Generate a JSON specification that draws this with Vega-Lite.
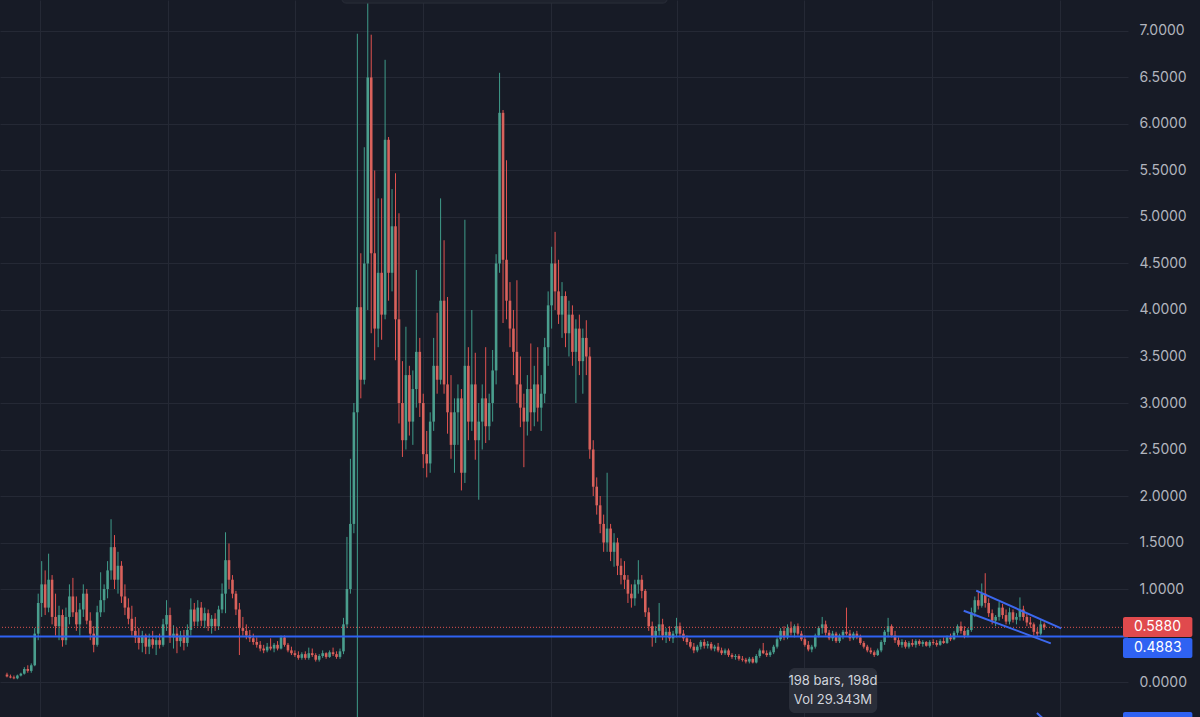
{
  "$schema": "https://vega.github.io/schema/vega-lite/v6.json",
  "width": 1128,
  "height": 717,
  "autosize": {"type": "none"},
  "padding": {"left": 0, "top": 0, "right": 72, "bottom": 0},
  "background": "#171B26",
  "config": {
    "view": {"stroke": null},
    "font": "Inter"
  },
  "datasets": {
    "candles": [
      {"i":0,"o":0.08,"h":0.10,"l":0.05,"c":0.06},
      {"i":1,"o":0.06,"h":0.08,"l":0.04,"c":0.05},
      {"i":2,"o":0.05,"h":0.07,"l":0.03,"c":0.04},
      {"i":3,"o":0.04,"h":0.08,"l":0.03,"c":0.07},
      {"i":4,"o":0.07,"h":0.10,"l":0.06,"c":0.09},
      {"i":5,"o":0.09,"h":0.16,"l":0.08,"c":0.14},
      {"i":6,"o":0.14,"h":0.18,"l":0.10,"c":0.12},
      {"i":7,"o":0.12,"h":0.20,"l":0.10,"c":0.18},
      {"i":8,"o":0.18,"h":0.58,"l":0.17,"c":0.52},
      {"i":9,"o":0.52,"h":0.95,"l":0.45,"c":0.85},
      {"i":10,"o":0.85,"h":1.30,"l":0.70,"c":1.05},
      {"i":11,"o":1.05,"h":1.20,"l":0.72,"c":0.80},
      {"i":12,"o":0.80,"h":1.38,"l":0.75,"c":1.10},
      {"i":13,"o":1.10,"h":1.15,"l":0.62,"c":0.70},
      {"i":14,"o":0.70,"h":0.95,"l":0.50,"c":0.60},
      {"i":15,"o":0.60,"h":0.82,"l":0.45,"c":0.72},
      {"i":16,"o":0.72,"h":0.78,"l":0.38,"c":0.45},
      {"i":17,"o":0.45,"h":0.80,"l":0.40,"c":0.70},
      {"i":18,"o":0.70,"h":1.05,"l":0.62,"c":0.92},
      {"i":19,"o":0.92,"h":1.12,"l":0.70,"c":0.75},
      {"i":20,"o":0.75,"h":0.92,"l":0.55,"c":0.62},
      {"i":21,"o":0.62,"h":0.85,"l":0.50,"c":0.78},
      {"i":22,"o":0.78,"h":1.05,"l":0.70,"c":0.95},
      {"i":23,"o":0.95,"h":1.00,"l":0.62,"c":0.66},
      {"i":24,"o":0.66,"h":0.75,"l":0.45,"c":0.52},
      {"i":25,"o":0.52,"h":0.60,"l":0.32,"c":0.40},
      {"i":26,"o":0.40,"h":0.82,"l":0.38,"c":0.75},
      {"i":27,"o":0.75,"h":1.18,"l":0.70,"c":0.88},
      {"i":28,"o":0.88,"h":1.05,"l":0.75,"c":1.00},
      {"i":29,"o":1.00,"h":1.30,"l":0.90,"c":1.20},
      {"i":30,"o":1.20,"h":1.75,"l":1.10,"c":1.45},
      {"i":31,"o":1.45,"h":1.58,"l":1.00,"c":1.10},
      {"i":32,"o":1.10,"h":1.40,"l":0.95,"c":1.25},
      {"i":33,"o":1.25,"h":1.30,"l":0.85,"c":0.92},
      {"i":34,"o":0.92,"h":1.05,"l":0.72,"c":0.80},
      {"i":35,"o":0.80,"h":0.90,"l":0.62,"c":0.68},
      {"i":36,"o":0.68,"h":0.82,"l":0.50,"c":0.55},
      {"i":37,"o":0.55,"h":0.70,"l":0.42,"c":0.48},
      {"i":38,"o":0.48,"h":0.58,"l":0.35,"c":0.42},
      {"i":39,"o":0.42,"h":0.55,"l":0.32,"c":0.50},
      {"i":40,"o":0.50,"h":0.52,"l":0.30,"c":0.38},
      {"i":41,"o":0.38,"h":0.52,"l":0.30,"c":0.46},
      {"i":42,"o":0.46,"h":0.55,"l":0.36,"c":0.40},
      {"i":43,"o":0.40,"h":0.50,"l":0.29,"c":0.45},
      {"i":44,"o":0.45,"h":0.52,"l":0.36,"c":0.40},
      {"i":45,"o":0.40,"h":0.68,"l":0.38,"c":0.62},
      {"i":46,"o":0.62,"h":0.88,"l":0.55,"c":0.72},
      {"i":47,"o":0.72,"h":0.80,"l":0.42,"c":0.48},
      {"i":48,"o":0.48,"h":0.61,"l":0.36,"c":0.52},
      {"i":49,"o":0.52,"h":0.58,"l":0.31,"c":0.44},
      {"i":50,"o":0.44,"h":0.55,"l":0.38,"c":0.50},
      {"i":51,"o":0.50,"h":0.56,"l":0.34,"c":0.42},
      {"i":52,"o":0.42,"h":0.62,"l":0.38,"c":0.56},
      {"i":53,"o":0.56,"h":0.90,"l":0.50,"c":0.78},
      {"i":54,"o":0.78,"h":0.85,"l":0.60,"c":0.65},
      {"i":55,"o":0.65,"h":0.88,"l":0.60,"c":0.80},
      {"i":56,"o":0.80,"h":0.86,"l":0.60,"c":0.66},
      {"i":57,"o":0.66,"h":0.80,"l":0.58,"c":0.74},
      {"i":58,"o":0.74,"h":0.78,"l":0.55,"c":0.60},
      {"i":59,"o":0.60,"h":0.72,"l":0.52,"c":0.68},
      {"i":60,"o":0.68,"h":0.74,"l":0.55,"c":0.60},
      {"i":61,"o":0.60,"h":0.82,"l":0.56,"c":0.78},
      {"i":62,"o":0.78,"h":1.06,"l":0.74,"c":0.95},
      {"i":63,"o":0.95,"h":1.61,"l":0.74,"c":1.31},
      {"i":64,"o":1.31,"h":1.49,"l":1.00,"c":1.10},
      {"i":65,"o":1.10,"h":1.15,"l":0.90,"c":0.95},
      {"i":66,"o":0.95,"h":0.98,"l":0.72,"c":0.78},
      {"i":67,"o":0.78,"h":0.85,"l":0.29,"c":0.58},
      {"i":68,"o":0.58,"h":0.70,"l":0.50,"c":0.55},
      {"i":69,"o":0.55,"h":0.62,"l":0.46,"c":0.50},
      {"i":70,"o":0.50,"h":0.56,"l":0.43,"c":0.47},
      {"i":71,"o":0.47,"h":0.52,"l":0.40,"c":0.43},
      {"i":72,"o":0.43,"h":0.48,"l":0.37,"c":0.40},
      {"i":73,"o":0.40,"h":0.44,"l":0.33,"c":0.36},
      {"i":74,"o":0.36,"h":0.40,"l":0.31,"c":0.34},
      {"i":75,"o":0.34,"h":0.42,"l":0.32,"c":0.38},
      {"i":76,"o":0.38,"h":0.47,"l":0.34,"c":0.36},
      {"i":77,"o":0.36,"h":0.42,"l":0.32,"c":0.40},
      {"i":78,"o":0.40,"h":0.44,"l":0.34,"c":0.36},
      {"i":79,"o":0.36,"h":0.50,"l":0.35,"c":0.48},
      {"i":80,"o":0.48,"h":0.50,"l":0.38,"c":0.40},
      {"i":81,"o":0.40,"h":0.42,"l":0.32,"c":0.34},
      {"i":82,"o":0.34,"h":0.38,"l":0.29,"c":0.31},
      {"i":83,"o":0.31,"h":0.34,"l":0.27,"c":0.29},
      {"i":84,"o":0.29,"h":0.33,"l":0.24,"c":0.26},
      {"i":85,"o":0.26,"h":0.32,"l":0.24,"c":0.30},
      {"i":86,"o":0.30,"h":0.33,"l":0.24,"c":0.26},
      {"i":87,"o":0.26,"h":0.37,"l":0.24,"c":0.31},
      {"i":88,"o":0.31,"h":0.36,"l":0.27,"c":0.29},
      {"i":89,"o":0.29,"h":0.31,"l":0.22,"c":0.24},
      {"i":90,"o":0.24,"h":0.30,"l":0.22,"c":0.28},
      {"i":91,"o":0.28,"h":0.34,"l":0.26,"c":0.31},
      {"i":92,"o":0.31,"h":0.32,"l":0.25,"c":0.27},
      {"i":93,"o":0.27,"h":0.34,"l":0.26,"c":0.32},
      {"i":94,"o":0.32,"h":0.37,"l":0.28,"c":0.30},
      {"i":95,"o":0.30,"h":0.33,"l":0.25,"c":0.27},
      {"i":96,"o":0.27,"h":0.36,"l":0.25,"c":0.33},
      {"i":97,"o":0.33,"h":0.69,"l":0.30,"c":0.62},
      {"i":98,"o":0.62,"h":1.56,"l":0.58,"c":1.00},
      {"i":99,"o":1.00,"h":2.40,"l":0.95,"c":1.70},
      {"i":100,"o":1.70,"h":3.00,"l":1.60,"c":2.90},
      {"i":101,"o":2.90,"h":6.97,"l":-0.40,"c":4.03},
      {"i":102,"o":4.03,"h":4.61,"l":3.05,"c":3.25},
      {"i":103,"o":3.25,"h":5.75,"l":3.20,"c":4.50},
      {"i":104,"o":4.50,"h":7.30,"l":4.00,"c":6.50},
      {"i":105,"o":6.50,"h":6.96,"l":3.75,"c":4.61},
      {"i":106,"o":4.61,"h":5.50,"l":3.46,"c":3.80},
      {"i":107,"o":3.80,"h":5.20,"l":3.60,"c":4.40},
      {"i":108,"o":4.40,"h":5.20,"l":3.68,"c":3.95},
      {"i":109,"o":3.95,"h":6.69,"l":3.90,"c":5.83},
      {"i":110,"o":5.83,"h":5.86,"l":4.10,"c":4.40},
      {"i":111,"o":4.40,"h":5.30,"l":4.20,"c":4.90},
      {"i":112,"o":4.90,"h":5.47,"l":3.46,"c":3.90},
      {"i":113,"o":3.90,"h":5.04,"l":2.78,"c":3.00},
      {"i":114,"o":3.00,"h":3.45,"l":2.42,"c":2.60},
      {"i":115,"o":2.60,"h":3.82,"l":2.50,"c":3.30},
      {"i":116,"o":3.30,"h":3.40,"l":2.65,"c":2.80},
      {"i":117,"o":2.80,"h":3.35,"l":2.55,"c":3.15},
      {"i":118,"o":3.15,"h":4.43,"l":2.95,"c":3.55},
      {"i":119,"o":3.55,"h":3.70,"l":2.85,"c":3.00},
      {"i":120,"o":3.00,"h":3.10,"l":2.30,"c":2.45},
      {"i":121,"o":2.45,"h":2.70,"l":2.20,"c":2.35},
      {"i":122,"o":2.35,"h":2.90,"l":2.25,"c":2.80},
      {"i":123,"o":2.80,"h":3.70,"l":2.70,"c":3.40},
      {"i":124,"o":3.40,"h":3.97,"l":3.10,"c":3.25},
      {"i":125,"o":3.25,"h":5.20,"l":3.20,"c":4.10},
      {"i":126,"o":4.10,"h":4.75,"l":3.10,"c":3.20},
      {"i":127,"o":3.20,"h":4.14,"l":2.67,"c":2.90},
      {"i":128,"o":2.90,"h":3.30,"l":2.40,"c":2.55},
      {"i":129,"o":2.55,"h":3.05,"l":2.25,"c":2.90},
      {"i":130,"o":2.90,"h":3.20,"l":2.55,"c":3.05},
      {"i":131,"o":3.05,"h":3.15,"l":2.06,"c":2.25},
      {"i":132,"o":2.25,"h":4.97,"l":2.14,"c":3.40},
      {"i":133,"o":3.40,"h":3.60,"l":2.60,"c":2.80},
      {"i":134,"o":2.80,"h":4.00,"l":2.70,"c":3.20},
      {"i":135,"o":3.20,"h":3.54,"l":2.39,"c":2.60},
      {"i":136,"o":2.60,"h":3.00,"l":1.96,"c":2.80},
      {"i":137,"o":2.80,"h":3.20,"l":2.50,"c":3.05},
      {"i":138,"o":3.05,"h":3.60,"l":2.57,"c":2.75},
      {"i":139,"o":2.75,"h":3.10,"l":2.60,"c":3.00},
      {"i":140,"o":3.00,"h":3.57,"l":2.80,"c":3.35},
      {"i":141,"o":3.35,"h":4.60,"l":3.20,"c":4.50},
      {"i":142,"o":4.50,"h":6.55,"l":4.40,"c":6.12},
      {"i":143,"o":6.12,"h":6.15,"l":3.86,"c":4.54},
      {"i":144,"o":4.54,"h":5.61,"l":3.90,"c":4.10},
      {"i":145,"o":4.10,"h":4.30,"l":3.60,"c":3.80},
      {"i":146,"o":3.80,"h":4.00,"l":3.30,"c":3.55},
      {"i":147,"o":3.55,"h":4.32,"l":3.00,"c":3.20},
      {"i":148,"o":3.20,"h":3.50,"l":2.74,"c":2.95},
      {"i":149,"o":2.95,"h":3.10,"l":2.31,"c":2.80},
      {"i":150,"o":2.80,"h":3.30,"l":2.65,"c":3.15},
      {"i":151,"o":3.15,"h":3.64,"l":2.70,"c":2.90},
      {"i":152,"o":2.90,"h":3.40,"l":2.75,"c":3.20},
      {"i":153,"o":3.20,"h":3.60,"l":2.80,"c":2.95},
      {"i":154,"o":2.95,"h":3.30,"l":2.70,"c":3.10},
      {"i":155,"o":3.10,"h":3.70,"l":3.00,"c":3.60},
      {"i":156,"o":3.60,"h":4.20,"l":3.40,"c":4.05},
      {"i":157,"o":4.05,"h":4.68,"l":3.80,"c":4.50},
      {"i":158,"o":4.50,"h":4.84,"l":4.00,"c":4.20},
      {"i":159,"o":4.20,"h":4.54,"l":3.85,"c":3.95},
      {"i":160,"o":3.95,"h":4.30,"l":3.70,"c":4.15},
      {"i":161,"o":4.15,"h":4.20,"l":3.60,"c":3.75},
      {"i":162,"o":3.75,"h":4.10,"l":3.50,"c":3.95},
      {"i":163,"o":3.95,"h":4.05,"l":3.40,"c":3.55},
      {"i":164,"o":3.55,"h":3.90,"l":3.00,"c":3.80},
      {"i":165,"o":3.80,"h":3.95,"l":3.30,"c":3.45},
      {"i":166,"o":3.45,"h":3.80,"l":3.10,"c":3.70},
      {"i":167,"o":3.70,"h":3.89,"l":3.30,"c":3.50},
      {"i":168,"o":3.50,"h":3.60,"l":2.40,"c":2.50},
      {"i":169,"o":2.50,"h":2.60,"l":2.00,"c":2.10},
      {"i":170,"o":2.10,"h":2.20,"l":1.80,"c":1.90},
      {"i":171,"o":1.90,"h":2.00,"l":1.60,"c":1.70},
      {"i":172,"o":1.70,"h":1.80,"l":1.40,"c":1.50},
      {"i":173,"o":1.50,"h":2.25,"l":1.40,"c":1.65},
      {"i":174,"o":1.65,"h":1.70,"l":1.30,"c":1.40},
      {"i":175,"o":1.40,"h":1.60,"l":1.24,"c":1.50},
      {"i":176,"o":1.50,"h":1.55,"l":1.15,"c":1.25},
      {"i":177,"o":1.25,"h":1.33,"l":1.05,"c":1.15},
      {"i":178,"o":1.15,"h":1.30,"l":1.00,"c":1.10},
      {"i":179,"o":1.10,"h":1.15,"l":0.85,"c":0.95},
      {"i":180,"o":0.95,"h":1.05,"l":0.80,"c":0.90},
      {"i":181,"o":0.90,"h":1.10,"l":0.82,"c":1.05},
      {"i":182,"o":1.05,"h":1.31,"l":0.95,"c":1.10},
      {"i":183,"o":1.10,"h":1.15,"l":0.90,"c":0.98},
      {"i":184,"o":0.98,"h":1.00,"l":0.70,"c":0.75},
      {"i":185,"o":0.75,"h":0.80,"l":0.55,"c":0.60},
      {"i":186,"o":0.60,"h":0.65,"l":0.38,"c":0.48},
      {"i":187,"o":0.48,"h":0.60,"l":0.42,"c":0.55},
      {"i":188,"o":0.55,"h":0.85,"l":0.50,"c":0.62},
      {"i":189,"o":0.62,"h":0.68,"l":0.45,"c":0.50},
      {"i":190,"o":0.50,"h":0.58,"l":0.42,"c":0.54},
      {"i":191,"o":0.54,"h":0.60,"l":0.44,"c":0.47},
      {"i":192,"o":0.47,"h":0.55,"l":0.42,"c":0.52},
      {"i":193,"o":0.52,"h":0.69,"l":0.48,"c":0.60},
      {"i":194,"o":0.60,"h":0.64,"l":0.48,"c":0.52},
      {"i":195,"o":0.52,"h":0.56,"l":0.44,"c":0.47},
      {"i":196,"o":0.47,"h":0.50,"l":0.40,"c":0.43},
      {"i":197,"o":0.43,"h":0.46,"l":0.36,"c":0.38},
      {"i":198,"o":0.38,"h":0.42,"l":0.31,"c":0.34},
      {"i":199,"o":0.34,"h":0.40,"l":0.32,"c":0.38},
      {"i":200,"o":0.38,"h":0.45,"l":0.35,"c":0.43},
      {"i":201,"o":0.43,"h":0.46,"l":0.36,"c":0.39},
      {"i":202,"o":0.39,"h":0.44,"l":0.36,"c":0.41},
      {"i":203,"o":0.41,"h":0.43,"l":0.34,"c":0.36},
      {"i":204,"o":0.36,"h":0.40,"l":0.33,"c":0.38},
      {"i":205,"o":0.38,"h":0.42,"l":0.32,"c":0.34},
      {"i":206,"o":0.34,"h":0.37,"l":0.29,"c":0.31},
      {"i":207,"o":0.31,"h":0.36,"l":0.29,"c":0.34},
      {"i":208,"o":0.34,"h":0.36,"l":0.27,"c":0.29},
      {"i":209,"o":0.29,"h":0.31,"l":0.25,"c":0.27},
      {"i":210,"o":0.27,"h":0.30,"l":0.24,"c":0.28},
      {"i":211,"o":0.28,"h":0.30,"l":0.23,"c":0.25},
      {"i":212,"o":0.25,"h":0.28,"l":0.22,"c":0.24},
      {"i":213,"o":0.24,"h":0.26,"l":0.20,"c":0.22},
      {"i":214,"o":0.22,"h":0.27,"l":0.20,"c":0.25},
      {"i":215,"o":0.25,"h":0.27,"l":0.20,"c":0.21},
      {"i":216,"o":0.21,"h":0.30,"l":0.20,"c":0.28},
      {"i":217,"o":0.28,"h":0.36,"l":0.26,"c":0.34},
      {"i":218,"o":0.34,"h":0.42,"l":0.30,"c":0.31},
      {"i":219,"o":0.31,"h":0.34,"l":0.27,"c":0.29},
      {"i":220,"o":0.29,"h":0.34,"l":0.27,"c":0.32},
      {"i":221,"o":0.32,"h":0.40,"l":0.30,"c":0.38},
      {"i":222,"o":0.38,"h":0.48,"l":0.36,"c":0.46},
      {"i":223,"o":0.46,"h":0.58,"l":0.44,"c":0.55},
      {"i":224,"o":0.55,"h":0.60,"l":0.45,"c":0.48},
      {"i":225,"o":0.48,"h":0.62,"l":0.46,"c":0.58},
      {"i":226,"o":0.58,"h":0.65,"l":0.50,"c":0.53},
      {"i":227,"o":0.53,"h":0.62,"l":0.48,"c":0.60},
      {"i":228,"o":0.60,"h":0.63,"l":0.50,"c":0.52},
      {"i":229,"o":0.52,"h":0.55,"l":0.44,"c":0.46},
      {"i":230,"o":0.46,"h":0.50,"l":0.38,"c":0.40},
      {"i":231,"o":0.40,"h":0.44,"l":0.33,"c":0.35},
      {"i":232,"o":0.35,"h":0.40,"l":0.32,"c":0.38},
      {"i":233,"o":0.38,"h":0.52,"l":0.36,"c":0.50},
      {"i":234,"o":0.50,"h":0.60,"l":0.48,"c":0.58},
      {"i":235,"o":0.58,"h":0.70,"l":0.52,"c":0.62},
      {"i":236,"o":0.62,"h":0.66,"l":0.50,"c":0.53},
      {"i":237,"o":0.53,"h":0.56,"l":0.45,"c":0.47},
      {"i":238,"o":0.47,"h":0.55,"l":0.44,"c":0.52},
      {"i":239,"o":0.52,"h":0.54,"l":0.42,"c":0.44},
      {"i":240,"o":0.44,"h":0.52,"l":0.42,"c":0.50},
      {"i":241,"o":0.50,"h":0.56,"l":0.46,"c":0.54},
      {"i":242,"o":0.54,"h":0.80,"l":0.50,"c":0.52},
      {"i":243,"o":0.52,"h":0.56,"l":0.44,"c":0.47},
      {"i":244,"o":0.47,"h":0.54,"l":0.45,"c":0.52},
      {"i":245,"o":0.52,"h":0.55,"l":0.46,"c":0.48},
      {"i":246,"o":0.48,"h":0.51,"l":0.40,"c":0.42},
      {"i":247,"o":0.42,"h":0.44,"l":0.36,"c":0.38},
      {"i":248,"o":0.38,"h":0.40,"l":0.32,"c":0.34},
      {"i":249,"o":0.34,"h":0.37,"l":0.30,"c":0.32},
      {"i":250,"o":0.32,"h":0.34,"l":0.27,"c":0.29},
      {"i":251,"o":0.29,"h":0.36,"l":0.28,"c":0.34},
      {"i":252,"o":0.34,"h":0.45,"l":0.32,"c":0.43},
      {"i":253,"o":0.43,"h":0.56,"l":0.40,"c":0.54},
      {"i":254,"o":0.54,"h":0.69,"l":0.48,"c":0.60},
      {"i":255,"o":0.60,"h":0.62,"l":0.48,"c":0.50},
      {"i":256,"o":0.50,"h":0.55,"l":0.42,"c":0.45},
      {"i":257,"o":0.45,"h":0.48,"l":0.38,"c":0.40},
      {"i":258,"o":0.40,"h":0.46,"l":0.37,"c":0.43},
      {"i":259,"o":0.43,"h":0.45,"l":0.36,"c":0.38},
      {"i":260,"o":0.38,"h":0.44,"l":0.36,"c":0.42},
      {"i":261,"o":0.42,"h":0.46,"l":0.38,"c":0.40},
      {"i":262,"o":0.40,"h":0.46,"l":0.37,"c":0.44},
      {"i":263,"o":0.44,"h":0.46,"l":0.39,"c":0.41},
      {"i":264,"o":0.41,"h":0.45,"l":0.38,"c":0.43},
      {"i":265,"o":0.43,"h":0.44,"l":0.38,"c":0.39},
      {"i":266,"o":0.39,"h":0.45,"l":0.37,"c":0.43},
      {"i":267,"o":0.43,"h":0.46,"l":0.40,"c":0.42},
      {"i":268,"o":0.42,"h":0.45,"l":0.38,"c":0.40},
      {"i":269,"o":0.40,"h":0.46,"l":0.39,"c":0.44},
      {"i":270,"o":0.44,"h":0.48,"l":0.41,"c":0.42},
      {"i":271,"o":0.42,"h":0.50,"l":0.41,"c":0.48},
      {"i":272,"o":0.48,"h":0.52,"l":0.44,"c":0.46},
      {"i":273,"o":0.46,"h":0.55,"l":0.45,"c":0.53},
      {"i":274,"o":0.53,"h":0.62,"l":0.50,"c":0.60},
      {"i":275,"o":0.60,"h":0.65,"l":0.52,"c":0.55},
      {"i":276,"o":0.55,"h":0.60,"l":0.47,"c":0.50},
      {"i":277,"o":0.50,"h":0.58,"l":0.48,"c":0.56},
      {"i":278,"o":0.56,"h":0.80,"l":0.54,"c":0.75},
      {"i":279,"o":0.75,"h":0.92,"l":0.70,"c":0.88},
      {"i":280,"o":0.88,"h":0.98,"l":0.78,"c":0.82},
      {"i":281,"o":0.82,"h":1.06,"l":0.80,"c":0.95},
      {"i":282,"o":0.95,"h":1.17,"l":0.80,"c":0.85},
      {"i":283,"o":0.85,"h":0.90,"l":0.70,"c":0.74},
      {"i":284,"o":0.74,"h":0.78,"l":0.62,"c":0.66},
      {"i":285,"o":0.66,"h":0.72,"l":0.60,"c":0.70},
      {"i":286,"o":0.70,"h":0.86,"l":0.66,"c":0.80},
      {"i":287,"o":0.80,"h":0.84,"l":0.68,"c":0.72},
      {"i":288,"o":0.72,"h":0.78,"l":0.62,"c":0.65},
      {"i":289,"o":0.65,"h":0.80,"l":0.62,"c":0.75},
      {"i":290,"o":0.75,"h":0.78,"l":0.64,"c":0.67},
      {"i":291,"o":0.67,"h":0.74,"l":0.62,"c":0.70},
      {"i":292,"o":0.70,"h":0.91,"l":0.66,"c":0.78},
      {"i":293,"o":0.78,"h":0.82,"l":0.66,"c":0.70},
      {"i":294,"o":0.70,"h":0.74,"l":0.60,"c":0.64},
      {"i":295,"o":0.64,"h":0.70,"l":0.58,"c":0.62},
      {"i":296,"o":0.62,"h":0.64,"l":0.50,"c":0.54},
      {"i":297,"o":0.54,"h":0.58,"l":0.48,"c":0.52},
      {"i":298,"o":0.52,"h":0.67,"l":0.50,"c":0.62},
      {"i":299,"o":0.62,"h":0.64,"l":0.56,"c":0.588}
    ],
    "trend": [
      {"seg":"upper","i":279.4,"p":0.982},
      {"seg":"upper","i":303.9,"p":0.577},
      {"seg":"lower","i":275.8,"p":0.767},
      {"seg":"lower","i":300.9,"p":0.416},
      {"seg":"third","i":296.9,"p":-0.333},
      {"seg":"third","i":299.8,"p":-0.43}
    ]
  },
  "layer": [
    {
      "data": {"name": "candles"},
      "mark": {"type": "rule", "strokeWidth": 1},
      "encoding": {
        "x": {
          "field": "i", "type": "quantitative",
          "scale": {"domain": [-0.5714, 321.714], "nice": false, "zero": false},
          "axis": {
            "orient": "bottom", "values": [9.43, 46.29, 83.14, 120, 156.86, 193.14, 229.71, 266.57, 303.43],
            "labels": false, "ticks": false, "domain": false, "grid": true,
            "gridColor": "#252935", "gridWidth": 1, "title": null
          }
        },
        "y": {
          "field": "l", "type": "quantitative",
          "scale": {"domain": [-0.376, 7.333], "nice": false, "zero": false},
          "axis": {
            "orient": "right",
            "values": [0, 1, 1.5, 2, 2.5, 3, 3.5, 4, 4.5, 5, 5.5, 6, 6.5, 7],
            "format": ".4f", "labelColor": "#B2B5BE", "labelFont": "Inter", "labelFontSize": 14,
            "labelPadding": 11, "ticks": false, "domain": false, "grid": true,
            "gridColor": "#252935", "gridWidth": 1, "title": null, "labelAlign": "left",
            "labelBaseline": "middle"
          }
        },
        "y2": {"field": "h"},
        "color": {"condition": {"test": "datum.c >= datum.o", "value": "#3f9c8a"}, "value": "#e0524f"}
      }
    },
    {
      "data": {"name": "candles"},
      "mark": {"type": "bar", "width": 2.6},
      "encoding": {
        "x": {"field": "i", "type": "quantitative"},
        "y": {"field": "o", "type": "quantitative"},
        "y2": {"field": "c"},
        "color": {"condition": {"test": "datum.c >= datum.o", "value": "#4a9e8d"}, "value": "#d9625c"}
      }
    },
    {
      "data": {"values": [{}]},
      "mark": {"type": "rule", "color": "#E0524F", "strokeWidth": 1, "strokeDash": [1, 2]},
      "encoding": {"y": {"datum": 0.588}}
    },
    {
      "data": {"values": [{}]},
      "mark": {"type": "rule", "color": "#2F62F2", "strokeWidth": 2},
      "encoding": {"y": {"datum": 0.4883}}
    },
    {
      "data": {"name": "trend"},
      "mark": {"type": "line", "color": "#3C68EE", "strokeWidth": 2},
      "encoding": {
        "x": {"field": "i", "type": "quantitative"},
        "y": {"field": "p", "type": "quantitative"},
        "detail": {"field": "seg"}
      }
    },
    {
      "data": {"values": [{}]},
      "mark": {"type": "rect", "color": "#E04A4D", "cornerRadius": 2},
      "encoding": {"x": {"datum": 321.714}, "x2": {"datum": 341.714}, "y": {"datum": 0.484}, "y2": {"datum": 0.699}}
    },
    {
      "data": {"values": [{}]},
      "mark": {"type": "rect", "color": "#2F62F2", "cornerRadius": 2},
      "encoding": {"x": {"datum": 321.714}, "x2": {"datum": 341.714}, "y": {"datum": 0.258}, "y2": {"datum": 0.473}}
    },
    {
      "data": {"values": [{}]},
      "mark": {"type": "rect", "color": "#2F62F2", "cornerRadius": 2},
      "encoding": {"x": {"datum": 321.714}, "x2": {"datum": 341.714}, "y": {"datum": -0.5}, "y2": {"datum": -0.323}}
    },
    {
      "data": {"values": [{"t": "0.5880", "p": 0.592}, {"t": "0.4883", "p": 0.362}]},
      "mark": {"type": "text", "color": "#FFFFFF", "font": "Inter", "fontSize": 14, "align": "left", "baseline": "middle"},
      "encoding": {"x": {"datum": 324.9}, "y": {"field": "p", "type": "quantitative"}, "text": {"field": "t"}}
    },
    {
      "data": {"values": [{}]},
      "mark": {"type": "rect", "color": "#2A2E39", "cornerRadius": 6},
      "encoding": {"x": {"datum": 225.43}, "x2": {"datum": 250.86}, "y": {"datum": -0.333}, "y2": {"datum": 0.151}}
    },
    {
      "data": {"values": [{"t": "198 bars, 198d", "p": 0.011}, {"t": "Vol 29.343M", "p": -0.194}]},
      "mark": {"type": "text", "color": "#D1D4DC", "font": "Inter", "fontSize": 13, "align": "center", "baseline": "middle"},
      "encoding": {"x": {"datum": 238.1}, "y": {"field": "p", "type": "quantitative"}, "text": {"field": "t"}}
    },
    {
      "data": {"values": [{}]},
      "mark": {"type": "rect", "color": "#1E222D", "stroke": "#2A2E39", "strokeWidth": 1, "cornerRadius": 4},
      "encoding": {"x": {"datum": 96.57}, "x2": {"datum": 190.29}, "y": {"datum": 7.30}, "y2": {"datum": 7.5}}
    }
  ]
}
